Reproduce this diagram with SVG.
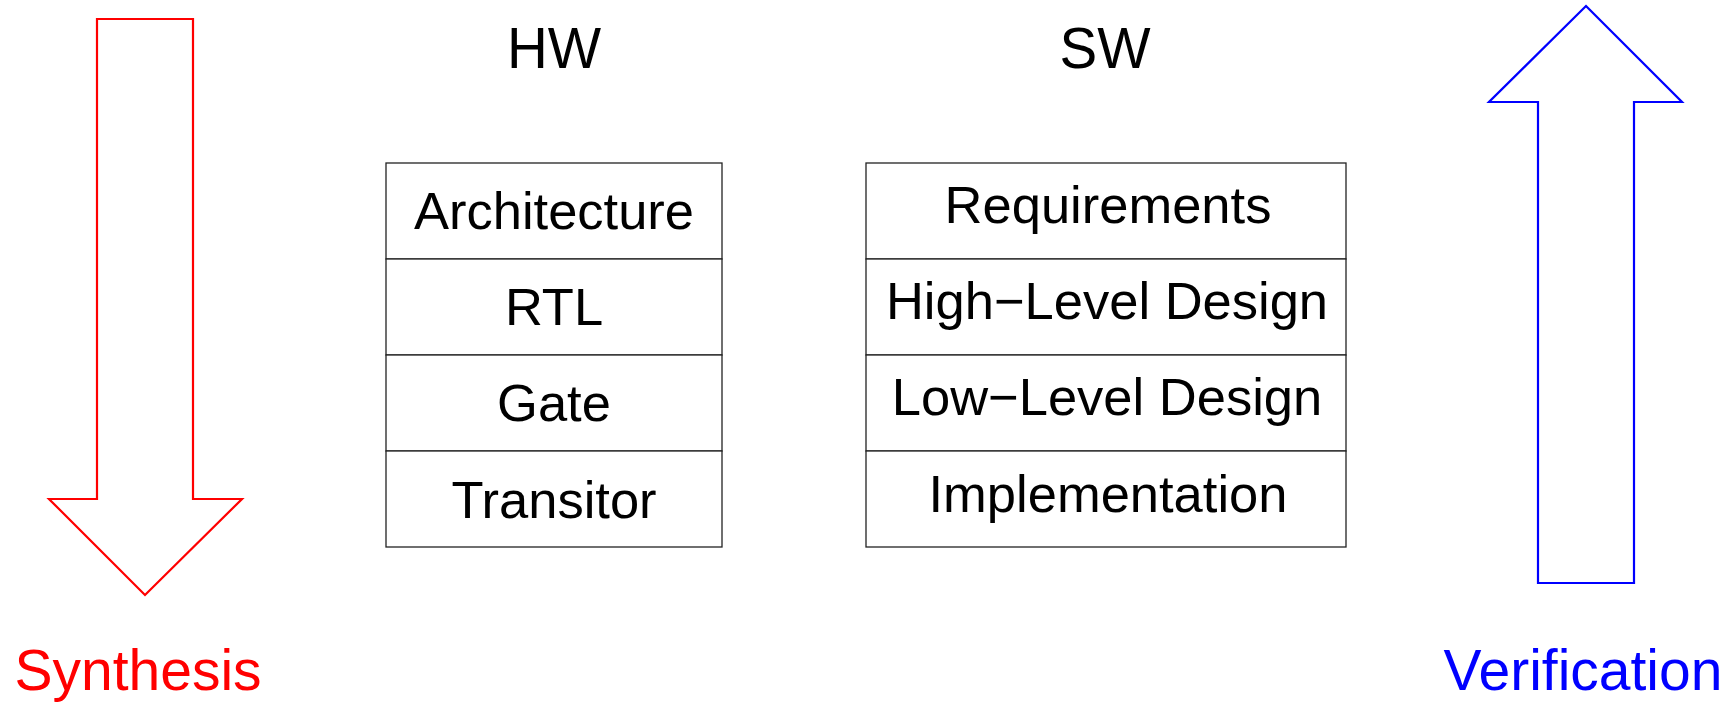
<svg xmlns="http://www.w3.org/2000/svg" width="1736" height="702" viewBox="0 0 1736 702">
<style>
text{font-family:"Liberation Sans",Arial,sans-serif;text-anchor:middle}
.t{font-size:52.5px;fill:#000}
.h{font-size:56.5px;fill:#000}
.lbl{font-size:57px}
.cell{fill:#fff;stroke:#222;stroke-width:1.3}
.arr{fill:#fff;stroke-width:2.2;stroke-linejoin:miter}
</style>
<rect width="1736" height="702" fill="#fff"/>
<g id="synthesis-arrow">
<polygon class="arr" stroke="#ff0000" points="97,19 193,19 193,499 242,499 145,595 49,499 97,499"/>
<text class="lbl" x="138" y="690" fill="#ff0000">Synthesis</text>
</g>
<g id="verification-arrow">
<polygon class="arr" stroke="#0000ff" points="1586,6 1682,102 1634,102 1634,583 1538,583 1538,102 1489,102"/>
<text class="lbl" x="1583" y="690" fill="#0000ff">Verification</text>
</g>
<g id="hw">
<text class="h" x="554" y="68">HW</text>
<g id="hw-architecture"><rect class="cell" x="386" y="163" width="336" height="96"/><text class="t" x="554" y="229">Architecture</text></g>
<g id="hw-rtl"><rect class="cell" x="386" y="259" width="336" height="96"/><text class="t" x="554" y="325">RTL</text></g>
<g id="hw-gate"><rect class="cell" x="386" y="355" width="336" height="96"/><text class="t" x="554" y="421">Gate</text></g>
<g id="hw-transitor"><rect class="cell" x="386" y="451" width="336" height="96"/><text class="t" x="554" y="518">Transitor</text></g>
</g>
<g id="sw">
<text class="h" x="1105" y="68">SW</text>
<g id="sw-requirements"><rect class="cell" x="866" y="163" width="480" height="96"/><text class="t" x="1108" y="223">Requirements</text></g>
<g id="sw-hld"><rect class="cell" x="866" y="259" width="480" height="96"/><text class="t" x="1107" y="319">High−Level Design</text></g>
<g id="sw-lld"><rect class="cell" x="866" y="355" width="480" height="96"/><text class="t" x="1107" y="415">Low−Level Design</text></g>
<g id="sw-implementation"><rect class="cell" x="866" y="451" width="480" height="96"/><text class="t" x="1108" y="512">Implementation</text></g>
</g>
<g id="connectors"></g>
</svg>
